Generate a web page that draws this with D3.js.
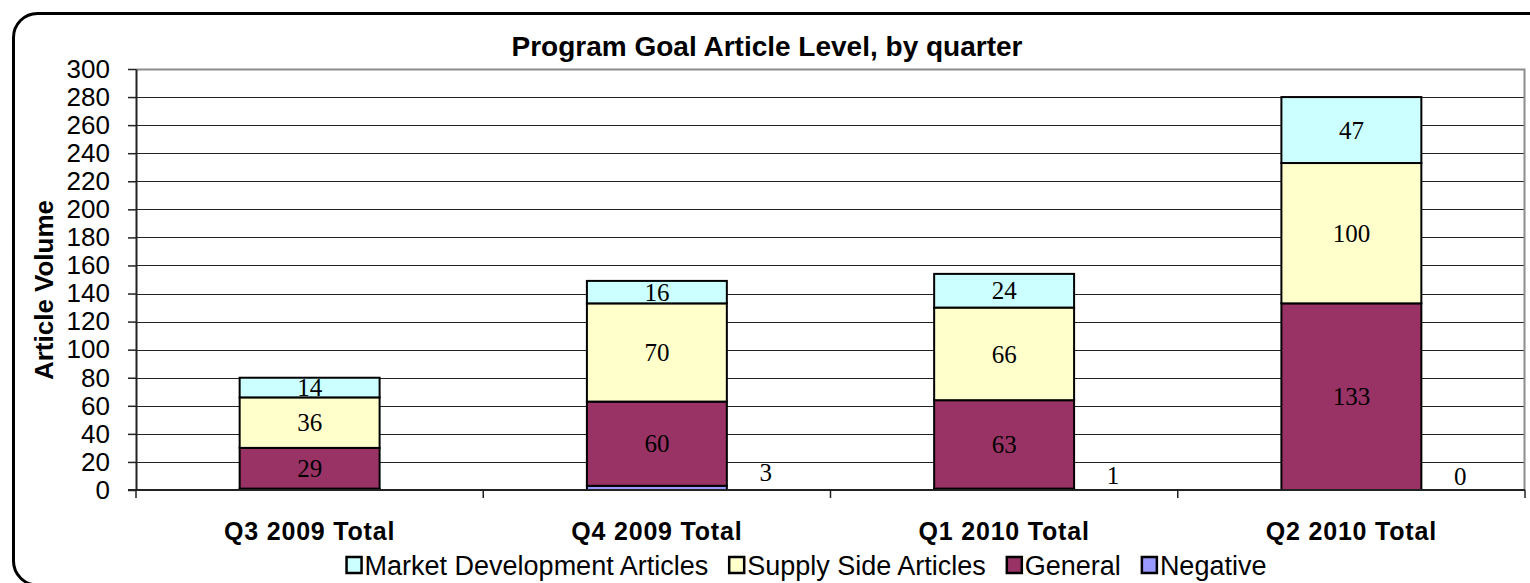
<!DOCTYPE html>
<html>
<head>
<meta charset="utf-8">
<script src="https://cdn.jsdelivr.net/npm/d3@7"></script>
<style>
  html, body { margin: 0; padding: 0; background: #fff; }
  svg { display: block; }
</style>
</head>
<body>
<svg id="chart" width="1530" height="583"></svg>
<script>
// ---- data ----
const categories = ["Q3 2009 Total", "Q4 2009 Total", "Q1 2010 Total", "Q2 2010 Total"];
const negative = [1, 3, 1, 0];
const general = [29, 60, 63, 133];
const supplySide = [36, 70, 66, 100];
const marketDevelopment = [14, 16, 24, 47];
const negativeLabels = [null, "3", "1", "0"];
const yTicks = [0, 20, 40, 60, 80, 100, 120, 140, 160, 180, 200, 220, 240, 260, 280, 300];
const seriesNames = ["Negative", "General", "Supply Side Articles", "Market Development Articles"];
const legendOrder = ["Market Development Articles", "Supply Side Articles", "General", "Negative"];
const colors = {
  "Negative": "#9999FF",
  "General": "#993366",
  "Supply Side Articles": "#FFFFCC",
  "Market Development Articles": "#CCFFFF"
};

const svg = d3.select("#chart");
const plot = { left: 136, right: 1525, top: 69, bottom: 490 };

// outer rounded frame
svg.append("rect")
  .attr("x", 13.5).attr("y", 13.5)
  .attr("width", 1560).attr("height", 571.5)
  .attr("rx", 24).attr("ry", 24)
  .attr("fill", "#fff").attr("stroke", "#000").attr("stroke-width", 3);

const x = d3.scaleBand().domain(categories).range([plot.left, plot.right]).padding(0);
const y = d3.scaleLinear().domain([0, 300]).range([plot.bottom, plot.top]);
const barW = x.bandwidth() * 0.403;

// gridlines
svg.append("g").selectAll("line")
  .data(yTicks.filter(d => d > 0 && d < 300))
  .join("line")
  .attr("x1", plot.left).attr("x2", plot.right)
  .attr("y1", d => Math.round(y(d)) + 0.5).attr("y2", d => Math.round(y(d)) + 0.5)
  .attr("stroke", "#222").attr("stroke-width", 1);

// plot area border (top/right)
svg.append("path")
  .attr("d", `M${plot.left},${Math.round(y(300)) + 0.5}H${plot.right - 0.5}V${plot.bottom}`)
  .attr("fill", "none").attr("stroke", "#8c8c8c").attr("stroke-width", 2);

// stacked data
const rows = categories.map((c, i) => ({
  cat: c,
  "Negative": negative[i],
  "General": general[i],
  "Supply Side Articles": supplySide[i],
  "Market Development Articles": marketDevelopment[i]
}));
const stacked = d3.stack().keys(seriesNames)(rows);

const gBars = svg.append("g");
stacked.forEach(layer => {
  gBars.append("g").selectAll("rect")
    .data(layer)
    .join("rect")
    .attr("x", d => x(d.data.cat) + (x.bandwidth() - barW) / 2)
    .attr("y", d => y(d[1]))
    .attr("width", barW)
    .attr("height", d => y(d[0]) - y(d[1]))
    .attr("fill", colors[layer.key])
    .attr("stroke", "#000").attr("stroke-width", 2);
});

// value labels (serif)
const labelFont = "'Liberation Serif', 'Times New Roman', serif";
stacked.forEach(layer => {
  if (layer.key === "Negative") return;
  svg.append("g").selectAll("text")
    .data(layer)
    .join("text")
    .attr("x", d => x(d.data.cat) + x.bandwidth() / 2)
    .attr("y", d => (y(d[0]) + y(d[1])) / 2)
    .attr("dy", "0.35em")
    .attr("text-anchor", "middle")
    .attr("font-family", labelFont).attr("font-size", 25)
    .attr("fill", "#000")
    .text(d => d[1] - d[0]);
});
// negative series labels, to the right of the bar
svg.append("g").selectAll("text")
  .data(categories.map((c, i) => ({ cat: c, v: negative[i], label: negativeLabels[i] })).filter(d => d.label !== null))
  .join("text")
  .attr("x", d => x(d.cat) + (x.bandwidth() + barW) / 2 + 39)
  .attr("y", d => y(d.v) - 13.5)
  .attr("dy", "0.35em")
  .attr("text-anchor", "middle")
  .attr("font-family", labelFont).attr("font-size", 25)
  .attr("fill", "#000")
  .text(d => d.label);

const sans = "'Liberation Sans', Arial, sans-serif";

// y axis
const yAxis = svg.append("g")
  .attr("transform", `translate(${plot.left},0)`)
  .call(d3.axisLeft(y).tickValues(yTicks).tickSize(8).tickPadding(18).tickSizeOuter(0));
yAxis.select(".domain").attr("stroke", "#222").attr("stroke-width", 2);
yAxis.selectAll(".tick line").attr("stroke", "#222").attr("stroke-width", 1.5);
yAxis.selectAll(".tick text")
  .attr("font-family", sans).attr("font-size", 26).attr("fill", "#000");

// x axis line + boundary ticks
svg.append("line")
  .attr("x1", plot.left - 8).attr("x2", plot.right)
  .attr("y1", plot.bottom).attr("y2", plot.bottom)
  .attr("stroke", "#222").attr("stroke-width", 2);
svg.append("g").selectAll("line")
  .data(categories.map(c => x(c) + x.bandwidth()).concat([plot.left]))
  .join("line")
  .attr("x1", d => d).attr("x2", d => d)
  .attr("y1", plot.bottom).attr("y2", plot.bottom + 8)
  .attr("stroke", "#222").attr("stroke-width", 1.5);

// category labels
svg.append("g").selectAll("text")
  .data(categories)
  .join("text")
  .attr("x", d => x(d) + x.bandwidth() / 2)
  .attr("y", 540)
  .attr("text-anchor", "middle")
  .attr("font-family", sans).attr("font-size", 25).attr("font-weight", "bold")
  .attr("letter-spacing", 0.8)
  .attr("fill", "#000")
  .text(d => d);

// title
svg.append("text")
  .attr("x", 767).attr("y", 56)
  .attr("text-anchor", "middle")
  .attr("font-family", sans).attr("font-size", 28).attr("font-weight", "bold")
  .attr("fill", "#000")
  .text("Program Goal Article Level, by quarter");

// y axis title
svg.append("text")
  .attr("transform", "translate(53,290) rotate(-90)")
  .attr("text-anchor", "middle")
  .attr("font-family", sans).attr("font-size", 26).attr("font-weight", "bold")
  .attr("fill", "#000")
  .text("Article Volume");

// legend
const legend = svg.append("g");
let cx = 0;
const items = [];
const gap = 20;
legendOrder.forEach(name => {
  const g = legend.append("g");
  g.append("rect")
    .attr("x", 1).attr("y", -18).attr("width", 15).attr("height", 16)
    .attr("fill", colors[name]).attr("stroke", "#000").attr("stroke-width", 2.5);
  const t = g.append("text")
    .attr("x", 19).attr("y", 0)
    .attr("font-family", sans).attr("font-size", 27)
    .attr("fill", "#000")
    .text(name);
  const w = 19 + t.node().getComputedTextLength();
  items.push({ g, x: cx });
  cx += w + gap;
});
const totalW = cx - gap;
const startX = 806 - totalW / 2;
items.forEach(it => it.g.attr("transform", `translate(${startX + it.x},575)`));
</script>
</body>
</html>
